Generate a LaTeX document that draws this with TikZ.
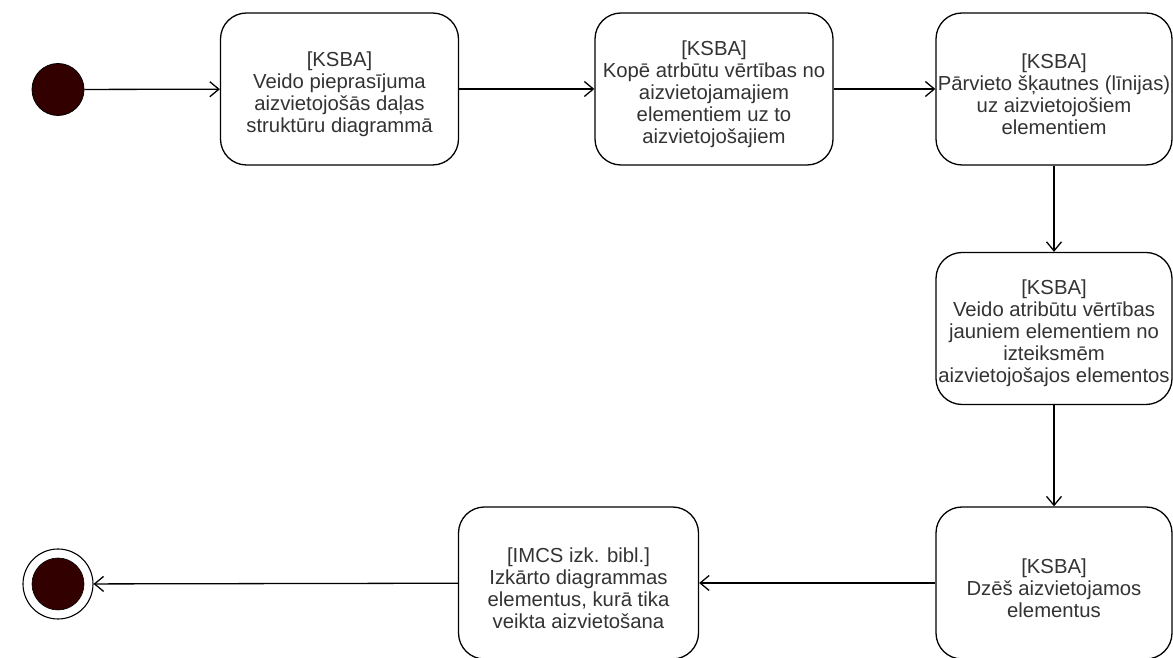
\documentclass[tikz,border=0pt]{standalone}
\usepackage{fontspec}
\setmainfont{Liberation Sans}
\usetikzlibrary{arrows.meta}
\definecolor{dotfill}{HTML}{330000}
\definecolor{txt}{HTML}{333333}
\tikzset{
  action/.style={draw=black, line width=1.3pt, rounded corners=26pt, fill=white,
    minimum width=238pt, minimum height=152pt, inner sep=0pt},
  label text/.style={inner sep=0pt, align=center, text=txt,
    font=\fontsize{20.3}{22}\selectfont},
  startdot/.style={circle, draw=black, line width=0.8pt, fill=dotfill, minimum size=52pt, inner sep=0pt},
  enddot/.style={circle, draw=black, line width=1.1pt, fill=white, minimum size=70pt, inner sep=0pt},
  flow/.style={draw=black, line width=1.3pt, -{Straight Barb[length=9pt,width=15pt,line width=1.3pt]}}
}
\begin{document}
\begin{tikzpicture}[x=1pt,y=1pt]
  \useasboundingbox (0,0) rectangle (1173,658);
  \fill[white] (0,0) rectangle (1173,658);

  % initial and final states
  \node[startdot] (start) at (58,568.5) {};
  \node[enddot] (stop) at (58,74) {};
  \node[circle, draw=black, line width=0.6pt, fill=dotfill, minimum size=52pt, inner sep=0pt] (stopdot) at (stop.center) {};

  % action boxes
  \node[action] (b1) at (339.5,569) {};
  \node[action] (b2) at (714,569) {};
  \node[action, minimum width=236pt] (b3) at (1054,569) {};
  \node[action, minimum width=236pt] (b4) at (1054,329.5) {};
  \node[action, minimum width=236pt] (b5) at (1054,75) {};
  \node[action, minimum width=240pt] (b6) at (578.5,75) {};

  % action texts
  \node[label text] (b1t) at ([yshift=-5pt]b1.center) {[KSBA]\\Veido pieprasījuma\\aizvietojošās daļas\\struktūru diagrammā};
  \node[label text] (b2t) at ([yshift=-5pt]b2.center) {[KSBA]\\Kopē atrbūtu vērtības no\\aizvietojamajiem\\elementiem uz to\\aizvietojošajiem};
  \node[label text] (b3t) at ([yshift=-5pt]b3.center) {[KSBA]\\Pārvieto šķautnes (līnijas)\\uz aizvietojošiem\\elementiem};
  \node[label text] (b4t) at ([yshift=-5pt]b4.center) {[KSBA]\\Veido atribūtu vērtības\\jauniem elementiem no\\izteiksmēm\\aizvietojošajos elementos};
  \node[label text] (b5t) at ([yshift=-5pt]b5.center) {[KSBA]\\Dzēš aizvietojamos\\elementus};
  \node[label text] (b6t) at ([yshift=-5pt]b6.center) {[IMCS izk. bibl.]\\Izkārto diagrammas\\elementus, kurā tika\\veikta aizvietošana};

  % control flow
  \draw[flow] (start) -- (b1);
  \draw[flow] (b1) -- (b2);
  \draw[flow] (b2) -- (b3);
  \draw[flow] (b3) -- (b4);
  \draw[flow] (b4) -- (b5);
  \draw[flow] (b5) -- (b6);
  \draw[flow] (b6) -- (stop);
\end{tikzpicture}
\end{document}
